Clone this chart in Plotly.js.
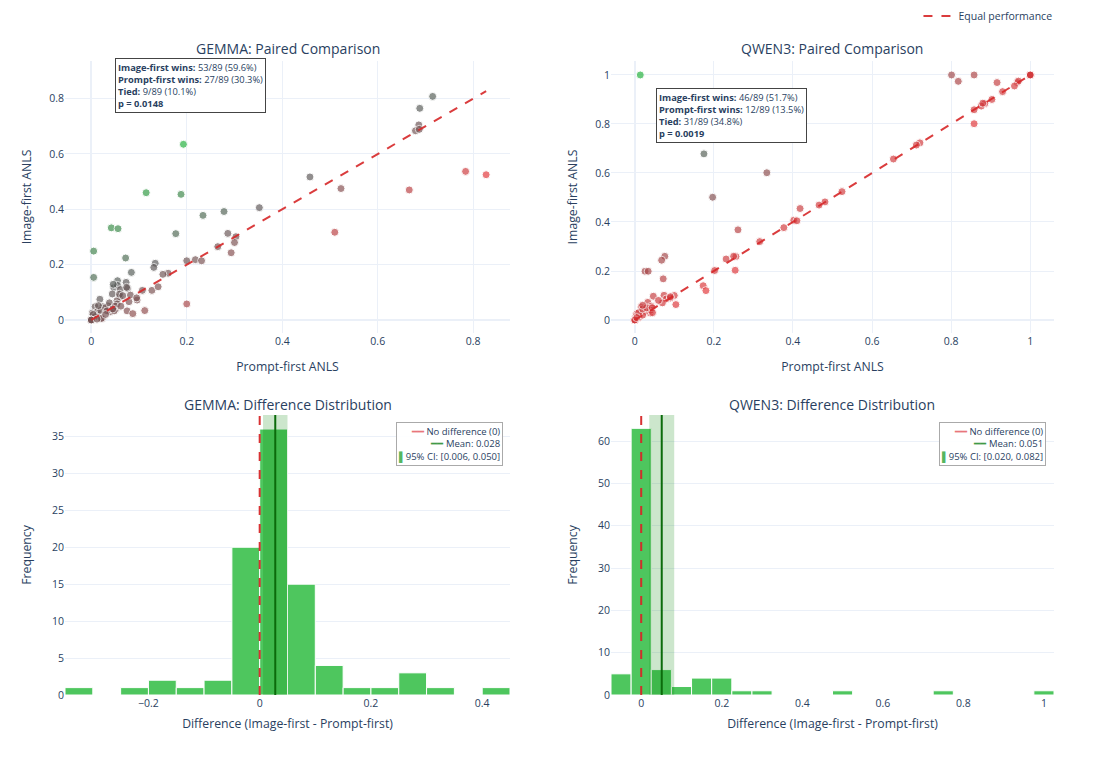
<!DOCTYPE html>
<html><head><meta charset="utf-8">
<script src="https://cdn.plot.ly/plotly-3.0.1.min.js"></script>
<style>html,body{margin:0;padding:0;background:#fff}#chart{width:1119px;height:757px}</style>
</head><body><div id="chart"></div>
<script>
// ---------------- DATA ----------------
const gemmaPrompt = [0.193,0.115,0.188,0.042,0.056,0.005,0.005,0.715,0.688,0.686,0.679,0.687,0.458,0.523,0.352,0.278,0.234,0.177,0.286,0.303,0.293,0.265,0.200,0.218,0.231,0.072,0.134,0.131,0.084,0.161,0.055,0.073,0.047,0.055,0.061,0.076,0.044,0.060,0.107,0.127,0.018,0.079,0.096,0.008,0.024,0.035,0.054,0.051,0.040,0.002,0.012,0.023,0.000,0.075,0.087,0.112,0.784,0.827,0.666,0.510,0.200,
  0.046,0.059,0.074,0.054,0.013,0.020,0.030,0.008,0.004,0.066,0.038,0.082,0.150,0.015,
  0.000,0.000,0.000,0.033,0.050,
  0.048,0.021,0.030,0.062,0.095,0.140,0.045,0.012,0.300];
const gemmaImage = [0.635,0.460,0.454,0.333,0.330,0.249,0.154,0.808,0.765,0.705,0.684,0.689,0.517,0.475,0.406,0.392,0.378,0.312,0.313,0.301,0.243,0.265,0.214,0.218,0.214,0.224,0.205,0.190,0.172,0.169,0.142,0.136,0.117,0.125,0.110,0.114,0.094,0.084,0.107,0.107,0.075,0.066,0.072,0.048,0.048,0.051,0.070,0.039,0.030,0.025,0.018,0.005,0.000,0.033,0.023,0.034,0.537,0.525,0.470,0.317,0.058,
  0.129,0.093,0.118,0.058,0.030,0.035,0.045,0.012,0.020,0.088,0.062,0.090,0.165,0.052,
  0.000,0.000,0.000,0.033,0.050,
  0.033,0.006,0.020,0.050,0.080,0.120,0.040,0.003,0.280];

const qwenPrompt = [0.014,0.175,0.334,0.197,0.801,0.818,0.858,0.916,1.000,0.967,0.930,0.903,0.885,0.876,0.858,0.858,0.721,0.712,0.654,0.524,0.481,0.466,0.418,0.402,0.377,0.316,0.261,0.256,0.231,0.254,0.202,0.173,0.180,0.076,0.068,0.026,0.034,0.072,0.074,0.047,0.104,0.100,0.080,0.070,0.033,0.042,0.039,0.016,0.027,0.005,0.010,0.000,0.003,
  0,0,0,0,0,0,0,0,0,0,0,0,1,1,1,1,1,1,1,0.02,0.04,0.09,
  0.010,0.020,0.030,0.005,0.060,0.090,0.044,0.250,0.970,0.880,0.020,
  0.045,0.410,0.960];
const qwenImage = [1.000,0.678,0.601,0.501,1.000,0.974,1.000,0.969,1.000,0.969,0.932,0.900,0.883,0.873,0.858,0.801,0.723,0.714,0.657,0.524,0.482,0.469,0.455,0.407,0.377,0.320,0.368,0.259,0.249,0.203,0.202,0.140,0.120,0.260,0.244,0.199,0.199,0.168,0.101,0.097,0.063,0.100,0.086,0.070,0.072,0.056,0.029,0.053,0.035,0.026,0.010,0.000,0.015,
  0,0,0,0,0,0,0,0,0,0,0,0,1,1,1,1,1,1,1,0.02,0.04,0.09,
  0.030,0.045,0.050,0.010,0.080,0.095,0.050,0.260,0.975,0.885,0.060,
  0.030,0.405,0.955];

// histogram bins (centres) and counts
const gemmaBinCenters = [-0.325,-0.275,-0.225,-0.175,-0.125,-0.075,-0.025,0.025,0.075,0.125,0.175,0.225,0.275,0.325,0.375,0.425];
const gemmaCounts     = [1,0,1,2,1,2,20,36,15,4,1,1,3,1,0,1];
const qwenBinCenters  = [-0.05,0,0.05,0.1,0.15,0.2,0.25,0.3,0.35,0.4,0.45,0.5,0.55,0.6,0.65,0.7,0.75,0.8,0.85,0.9,0.95,1.0];
const qwenCounts      = [5,63,6,2,4,4,1,1,0,0,0,1,0,0,0,0,1,0,0,0,0,1];

const modelNames = ['GEMMA','QWEN3'];
const meanDiff = [0.028, 0.051];
const ciLow    = [0.006, 0.020];
const ciHigh   = [0.050, 0.082];
const stats = [
  {img:'53/89 (59.6%)', prm:'27/89 (30.3%)', tie:'9/89 (10.1%)', p:'0.0148'},
  {img:'46/89 (51.7%)', prm:'12/89 (13.5%)', tie:'31/89 (34.8%)', p:'0.0019'}
];

// ---------------- STYLE ----------------
const FONT = 'Open Sans, verdana, arial, sans-serif';
const TXT = '#2a3f5f';
const GRID = '#ebf0f8';
const scale = [[0,'#e2373a'],[0.5,'#5a5a5a'],[1,'#22b03c']];
const barColor = 'rgb(78,198,94)';

function scatterTrace(px, py, xa, ya){
  const diff = py.map((v,i)=>v-px[i]);
  return {type:'scatter', mode:'markers', x:px, y:py, xaxis:xa, yaxis:ya, showlegend:false,
    marker:{size:8, color:diff, colorscale:scale, showscale:false, opacity:0.68,
      line:{color:'white', width:1}}, hoverinfo:'x+y'};
}
function diagTrace(px, py, xa, ya, show){
  const m = Math.max(...px, ...py);
  return {type:'scatter', mode:'lines', x:[0,m], y:[0,m], xaxis:xa, yaxis:ya,
    name:'Equal performance', showlegend:show, legend:'legend',
    line:{color:'rgba(214,39,40,0.9)', width:2, dash:'dash'}};
}
function barTrace(c, n, xa, ya){
  return {type:'bar', x:c, y:n, width:0.05, xaxis:xa, yaxis:ya, showlegend:false,
    marker:{color:barColor, line:{color:'white', width:1}}};
}

const data = [
  scatterTrace(gemmaPrompt, gemmaImage, 'x', 'y'),
  diagTrace(gemmaPrompt, gemmaImage, 'x', 'y', true),
  scatterTrace(qwenPrompt, qwenImage, 'x2', 'y2'),
  diagTrace(qwenPrompt, qwenImage, 'x2', 'y2', false),
  barTrace(gemmaBinCenters, gemmaCounts, 'x3', 'y3'),
  barTrace(qwenBinCenters, qwenCounts, 'x4', 'y4')
];

// ---------------- LAYOUT ----------------
const W = 1119, H = 757;
const colL = [65/W, 510/W], colR = [611/W, 1054/W];
const rowT = [1-333/H, 1-61/H], rowB = [1-695/H, 1-415/H];

function ax(domain, range, dtick, title, anchor, showgrid, standoff){
  const t = {text:title, font:{size:12.25, color:TXT, family:FONT}};
  if (standoff !== undefined) t.standoff = standoff;
  return {domain, range, dtick, anchor, showgrid, gridcolor:GRID, zeroline:showgrid, zerolinecolor:GRID, zerolinewidth:2,
    showline:false, ticks:'', tickfont:{size:10.5, color:TXT, family:FONT}, automargin:false, title:t};
}

const shapes = [];
['3','4'].forEach((k,i)=>{
  shapes.push({type:'rect', xref:'x'+k, yref:'y'+k+' domain', x0:ciLow[i], x1:ciHigh[i], y0:0, y1:1,
    fillcolor:'rgba(0,128,0,0.2)', line:{width:0}, layer:'above'});
  shapes.push({type:'line', xref:'x'+k, yref:'y'+k+' domain', x0:0, x1:0, y0:0, y1:1,
    line:{color:'rgba(214,39,40,0.95)', width:2, dash:'dash'}, layer:'above'});
  shapes.push({type:'line', xref:'x'+k, yref:'y'+k+' domain', x0:meanDiff[i], x1:meanDiff[i], y0:0, y1:1,
    line:{color:'#0b6b0b', width:2}, layer:'above'});
});

const annotations = [];
const titleSpecs = [
  [modelNames[0]+': Paired Comparison', (colL[0]+colL[1])/2, 1-48/H],
  [modelNames[1]+': Paired Comparison', (colR[0]+colR[1])/2, 1-48/H],
  [modelNames[0]+': Difference Distribution', (colL[0]+colL[1])/2, 1-405/H],
  [modelNames[1]+': Difference Distribution', (colR[0]+colR[1])/2, 1-405/H]
];
titleSpecs.forEach(t=>annotations.push({text:t[0], x:t[1], y:t[2], xref:'paper', yref:'paper',
  xanchor:'center', yanchor:'middle', showarrow:false, font:{size:14, color:TXT, family:FONT}}));

// statistics boxes
const boxPos = [[115/W, 1-58/H], [656/W, 1-88/H]];
stats.forEach((s,i)=>{
  annotations.push({xref:'paper', yref:'paper', x:boxPos[i][0], y:boxPos[i][1], xanchor:'left', yanchor:'top',
    showarrow:false, align:'left', bgcolor:'white', bordercolor:'#444', borderwidth:1, borderpad:2,
    font:{size:9.3, color:TXT, family:FONT},
    text:'<b>Image-first wins:</b> '+s.img+'<br><b>Prompt-first wins:</b> '+s.prm+'<br><b>Tied:</b> '+s.tie+'<br><b>p = '+s.p+'</b>'});
});

// histogram legends (right-aligned entries, as in the original)
const legPos = [[503/W, 1-422/H], [1046/W, 1-422/H]];
[0,1].forEach(i=>{
  annotations.push({xref:'paper', yref:'paper', x:legPos[i][0], y:legPos[i][1], xanchor:'right', yanchor:'top',
    showarrow:false, align:'right', bgcolor:'rgba(255,255,255,0.9)', bordercolor:'#aaaaaa', borderwidth:1, borderpad:2,
    font:{size:9.5, color:TXT, family:FONT},
    text:'<span style="color:#e8767a">━━</span> No difference (0)<br>'+
         '<span style="color:#3f9a46">━━</span> Mean: '+meanDiff[i].toFixed(3)+'<br>'+
         '<span style="color:#55b65f">▌</span>95% CI: ['+ciLow[i].toFixed(3)+', '+ciHigh[i].toFixed(3)+']'});
});

const layout = {
  width:W, height:H, margin:{l:0,r:0,t:0,b:0}, paper_bgcolor:'white', plot_bgcolor:'white',
  font:{family:FONT, color:TXT},
  xaxis: ax(colL, [-0.055, 0.877], 0.2, 'Prompt-first ANLS', 'y', true, 15),
  yaxis: ax(rowT, [-0.047, 0.936], 0.2, 'Image-first ANLS', 'x', true),
  xaxis2: ax(colR, [-0.06, 1.06], 0.2, 'Prompt-first ANLS', 'y2', true, 15),
  yaxis2: ax(rowT, [-0.053, 1.057], 0.2, 'Image-first ANLS', 'x2', true),
  xaxis3: ax(colL, [-0.35, 0.45], 0.2, 'Difference (Image-first - Prompt-first)', 'y3', false, 10),
  yaxis3: ax(rowB, [0, 37.9], 5, 'Frequency', 'x3', true),
  xaxis4: ax(colR, [-0.075, 1.025], 0.2, 'Difference (Image-first - Prompt-first)', 'y4', false, 10),
  yaxis4: ax(rowB, [0, 66.15], 10, 'Frequency', 'x4', true),
  legend:{x:0.945, xanchor:'right', y:0.998, yanchor:'top', bgcolor:'rgba(0,0,0,0)', font:{size:10.5, color:TXT, family:FONT}},
  bargap:0, shapes, annotations
};
layout.yaxis3.zeroline = false; layout.yaxis4.zeroline = false;

Plotly.newPlot('chart', data, layout, {displayModeBar:false, staticPlot:true});
</script></body></html>
